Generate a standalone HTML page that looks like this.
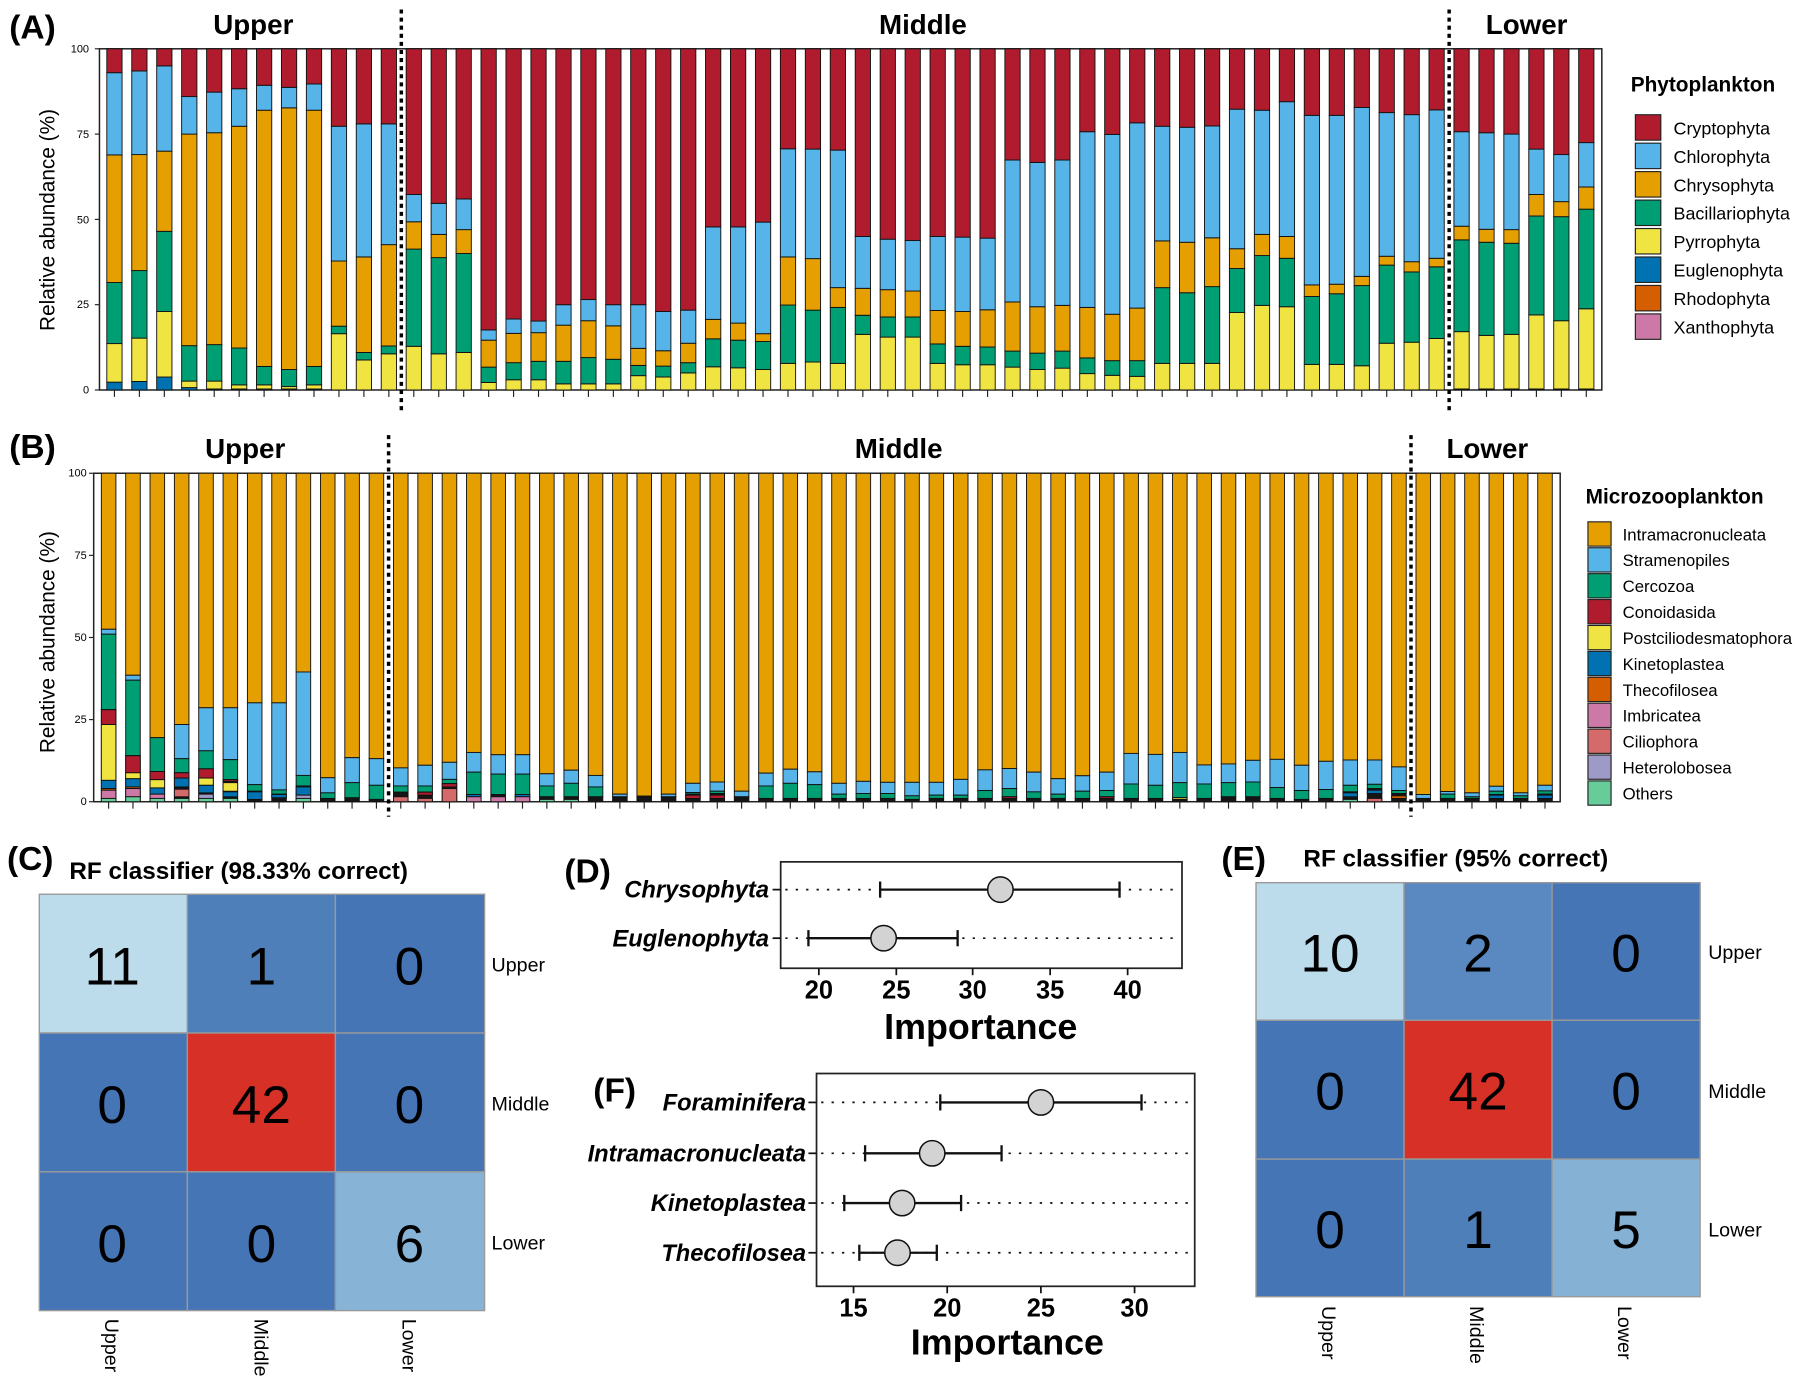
<!DOCTYPE html>
<html><head><meta charset="utf-8">
<style>
html,body{margin:0;padding:0;background:#fff;}
svg{display:block;font-family:"Liberation Sans",Arial,sans-serif;}
.b{font-weight:bold;}
</style></head>
<body>
<svg id="s" xmlns="http://www.w3.org/2000/svg" width="1810" height="1386" viewBox="0 0 1565 1198">
<rect width="1565" height="1198" fill="#fff"/>
<g id="barsA"></g>
<g id="barsB"></g>

<text x="8" y="33" class="b" font-size="29">(A)</text>
<text x="219" y="29" class="b" font-size="24" text-anchor="middle">Upper</text>
<text x="798" y="29" class="b" font-size="24" text-anchor="middle">Middle</text>
<text x="1320" y="29" class="b" font-size="24" text-anchor="middle">Lower</text>
<text transform="translate(47,190) rotate(-90)" font-size="18" text-anchor="middle">Relative abundance (%)</text>
<g font-size="9.5" text-anchor="end">
<text x="77" y="45">100</text><text x="77" y="119">75</text><text x="77" y="193">50</text><text x="77" y="266">25</text><text x="77" y="340">0</text>
</g>
<text x="8" y="396" class="b" font-size="29">(B)</text>
<text x="212" y="396" class="b" font-size="24" text-anchor="middle">Upper</text>
<text x="777" y="396" class="b" font-size="24" text-anchor="middle">Middle</text>
<text x="1286" y="396" class="b" font-size="24" text-anchor="middle">Lower</text>
<text transform="translate(47,555) rotate(-90)" font-size="18" text-anchor="middle">Relative abundance (%)</text>
<g font-size="9.5" text-anchor="end">
<text x="75" y="412">100</text><text x="75" y="483">75</text><text x="75" y="554">50</text><text x="75" y="625">25</text><text x="75" y="696">0</text>
</g>

<text x="1410" y="79" class="b" font-size="18">Phytoplankton</text>
<g id="legA" font-size="15.5"></g>
<text x="1371" y="435" class="b" font-size="18">Microzooplankton</text>
<g id="legB" font-size="14.5"></g>

<text x="6" y="752" class="b" font-size="29">(C)</text>
<text x="60" y="760" class="b" font-size="21">RF classifier (98.33% correct)</text>
<g stroke="#999" stroke-width="1.2">
<rect x="34" y="773" width="128" height="120" fill="#bcdcec"/>
<rect x="162" y="773" width="128" height="120" fill="#4f7fb8"/>
<rect x="290" y="773" width="129" height="120" fill="#4675b6"/>
<rect x="34" y="893" width="128" height="120" fill="#4675b6"/>
<rect x="162" y="893" width="128" height="120" fill="#d73027"/>
<rect x="290" y="893" width="129" height="120" fill="#4675b6"/>
<rect x="34" y="1013" width="128" height="120" fill="#4675b6"/>
<rect x="162" y="1013" width="128" height="120" fill="#4675b6"/>
<rect x="290" y="1013" width="129" height="120" fill="#86b3d6"/>
</g>
<g font-size="46" text-anchor="middle">
<text x="97" y="851">11</text><text x="226" y="851">1</text><text x="354" y="851">0</text>
<text x="97" y="971">0</text><text x="226" y="971">42</text><text x="354" y="971">0</text>
<text x="97" y="1091">0</text><text x="226" y="1091">0</text><text x="354" y="1091">6</text>
</g>
<g font-size="17">
<text x="425" y="840">Upper</text><text x="425" y="960">Middle</text><text x="425" y="1080">Lower</text>
<text transform="translate(91,1140) rotate(90)">Upper</text>
<text transform="translate(220,1140) rotate(90)">Middle</text>
<text transform="translate(348,1140) rotate(90)">Lower</text>
</g>

<text x="1056" y="752" class="b" font-size="29">(E)</text>
<text x="1127" y="749" class="b" font-size="21">RF classifier (95% correct)</text>
<g stroke="#999" stroke-width="1.2">
<rect x="1086" y="763" width="128" height="119" fill="#bcdcec"/>
<rect x="1214" y="763" width="128" height="119" fill="#5a88c0"/>
<rect x="1342" y="763" width="128" height="119" fill="#4675b6"/>
<rect x="1086" y="882" width="128" height="120" fill="#4675b6"/>
<rect x="1214" y="882" width="128" height="120" fill="#d73027"/>
<rect x="1342" y="882" width="128" height="120" fill="#4675b6"/>
<rect x="1086" y="1002" width="128" height="119" fill="#4675b6"/>
<rect x="1214" y="1002" width="128" height="119" fill="#4e7fb8"/>
<rect x="1342" y="1002" width="128" height="119" fill="#85b1d5"/>
</g>
<g font-size="46" text-anchor="middle">
<text x="1150" y="840">10</text><text x="1278" y="840">2</text><text x="1406" y="840">0</text>
<text x="1150" y="959">0</text><text x="1278" y="959">42</text><text x="1406" y="959">0</text>
<text x="1150" y="1079">0</text><text x="1278" y="1079">1</text><text x="1406" y="1079">5</text>
</g>
<g font-size="17">
<text x="1477" y="829">Upper</text><text x="1477" y="949">Middle</text><text x="1477" y="1069">Lower</text>
<text transform="translate(1143,1129) rotate(90)">Upper</text>
<text transform="translate(1271,1129) rotate(90)">Middle</text>
<text transform="translate(1399,1129) rotate(90)">Lower</text>
</g>

<text x="488" y="763" class="b" font-size="29">(D)</text>
<rect x="675" y="745" width="347" height="92" fill="none" stroke="#222" stroke-width="1.5"/>
<g stroke="#111" stroke-width="1.5" stroke-dasharray="2,7">
<line x1="679" y1="769" x2="1020" y2="769"/><line x1="679" y1="811" x2="1020" y2="811"/>
</g>
<line x1="668" y1="769" x2="675" y2="769" stroke="#111" stroke-width="1.5"/>
<line x1="668" y1="811" x2="675" y2="811" stroke="#111" stroke-width="1.5"/>
<g stroke="#111" stroke-width="2" fill="#d3d3d3">
<line x1="761" y1="769" x2="968" y2="769"/><line x1="761" y1="762" x2="761" y2="776"/><line x1="968" y1="762" x2="968" y2="776"/>
<line x1="699" y1="811" x2="828" y2="811"/><line x1="699" y1="804" x2="699" y2="818"/><line x1="828" y1="804" x2="828" y2="818"/>
<circle cx="865" cy="769" r="11" stroke-width="1.3"/><circle cx="764" cy="811" r="11" stroke-width="1.3"/>
</g>
<g stroke="#111" stroke-width="1.5">
<line x1="708" y1="837" x2="708" y2="843"/><line x1="775" y1="837" x2="775" y2="843"/><line x1="841" y1="837" x2="841" y2="843"/><line x1="908" y1="837" x2="908" y2="843"/><line x1="975" y1="837" x2="975" y2="843"/>
</g>
<g class="b" font-size="22" text-anchor="middle">
<text x="708" y="863">20</text><text x="775" y="863">25</text><text x="841" y="863">30</text><text x="908" y="863">35</text><text x="975" y="863">40</text>
</g>
<text x="848" y="898" class="b" font-size="31" text-anchor="middle">Importance</text>
<g class="b" font-style="italic" font-size="20.5" text-anchor="end">
<text x="665" y="776">Chrysophyta</text><text x="665" y="818">Euglenophyta</text>
</g>

<text x="513" y="952" class="b" font-size="29">(F)</text>
<rect x="706" y="928" width="327" height="184" fill="none" stroke="#222" stroke-width="1.5"/>
<g stroke="#111" stroke-width="1.5" stroke-dasharray="2,7">
<line x1="710" y1="953" x2="1031" y2="953"/><line x1="710" y1="997" x2="1031" y2="997"/><line x1="710" y1="1040" x2="1031" y2="1040"/><line x1="710" y1="1083" x2="1031" y2="1083"/>
</g>
<g stroke="#111" stroke-width="1.5">
<line x1="699" y1="953" x2="706" y2="953"/><line x1="699" y1="997" x2="706" y2="997"/><line x1="699" y1="1040" x2="706" y2="1040"/><line x1="699" y1="1083" x2="706" y2="1083"/>
</g>
<g stroke="#111" stroke-width="2" fill="#d3d3d3">
<line x1="813" y1="953" x2="987" y2="953"/><line x1="813" y1="946" x2="813" y2="960"/><line x1="987" y1="946" x2="987" y2="960"/>
<line x1="748" y1="997" x2="866" y2="997"/><line x1="748" y1="990" x2="748" y2="1004"/><line x1="866" y1="990" x2="866" y2="1004"/>
<line x1="730" y1="1040" x2="831" y2="1040"/><line x1="730" y1="1033" x2="730" y2="1047"/><line x1="831" y1="1033" x2="831" y2="1047"/>
<line x1="743" y1="1083" x2="810" y2="1083"/><line x1="743" y1="1076" x2="743" y2="1090"/><line x1="810" y1="1076" x2="810" y2="1090"/>
<circle cx="900" cy="953" r="11" stroke-width="1.3"/><circle cx="806" cy="997" r="11" stroke-width="1.3"/>
<circle cx="780" cy="1040" r="11" stroke-width="1.3"/><circle cx="776" cy="1083" r="11" stroke-width="1.3"/>
</g>
<g stroke="#111" stroke-width="1.5">
<line x1="738" y1="1112" x2="738" y2="1118"/><line x1="819" y1="1112" x2="819" y2="1118"/><line x1="900" y1="1112" x2="900" y2="1118"/><line x1="981" y1="1112" x2="981" y2="1118"/>
</g>
<g class="b" font-size="22" text-anchor="middle">
<text x="738" y="1138">15</text><text x="819" y="1138">20</text><text x="900" y="1138">25</text><text x="981" y="1138">30</text>
</g>
<text x="871" y="1171" class="b" font-size="31" text-anchor="middle">Importance</text>
<g class="b" font-style="italic" font-size="20.5" text-anchor="end">
<text x="697" y="960">Foraminifera</text><text x="697" y="1004">Intramacronucleata</text><text x="697" y="1047">Kinetoplastea</text><text x="697" y="1090">Thecofilosea</text>
</g>
</svg>
<script>
(function(){
var NS="http://www.w3.org/2000/svg";
function el(p,t,a){var e=document.createElementNS(NS,t);for(var k in a)e.setAttribute(k,a[k]);p.appendChild(e);return e;}
var C={cr:"#b01c2e",ch:"#56b4e9",cy:"#e69f00",ba:"#009e73",py:"#f0e442",eu:"#0072b2",rh:"#d55e00",xa:"#cc79a7",
 c:"#b01c2e",y:"#f0e442",k:"#0072b2",t:"#d55e00",i:"#cc79a7",l:"#d46a6a",h:"#9e9ac8",o:"#66cc99"};
var A=[[2.3,13.6,31.5,68.9,93],[2.5,15.2,35,69,93.5],[3.8,23,46.5,70,95],[0.7,2.6,13,75,86],[0.3,2.6,13.3,75.4,87.3],[0.3,1.5,12.3,77.3,88.3],[0.3,1.5,6.9,82,89.3],[0.3,1,6,82.7,88.7],[0.3,1.5,6.9,82,89.7],[0,16.5,18.7,37.8,77.3],[0,8.8,11,39,78],[0,10.6,12.9,42.6,78],
[0,12.8,41.3,49.3,57.3],[0,10.6,38.8,45.6,54.7],[0,11,40,47,56],[0,2.2,6.7,14.6,17.6],[0,3,8,16.6,20.8],[0,3,8.4,16.8,20.2],[0,1.8,8.4,19,25],[0,1.8,9.5,20.3,26.5],[0,1.8,9,18.8,25],[0,4.2,7.2,12.2,25],[0,3.8,7,11.5,23],[0,5,8,13.7,23.4],[0,6.8,15,20.7,47.8],[0,6.5,14.6,19.6,47.8],[0,6,14.2,16.5,49.2],[0,7.8,24.9,39,70.7],[0,8.2,23.4,38.5,70.6],[0,7.8,24.2,30,70.3],
[0,16.3,21.9,29.8,45],[0,15.5,21.4,29.4,44.2],[0,15.5,21.4,29,43.8],[0,7.8,13.5,23.3,45],[0,7.4,12.8,23,44.8],[0,7.4,12.6,23.5,44.5],[0,6.7,11.4,25.8,67.4],[0,6,10.8,24.4,66.7],[0,6.4,11.4,24.8,67.4],[0,4.8,9.4,24.2,75.7],[0,4.3,8.6,22.2,74.9],[0,4,8.6,24,78.3],[0,7.8,30,43.7,77.3],[0,7.8,28.5,43.3,77],[0,7.8,30.3,44.6,77.4],[0,22.7,35.6,41.4,82.3],[0,24.8,39.4,45.6,82],[0,24.4,38.6,45,84.5],[0,7.5,27.4,30.8,80.5],[0,7.5,28.2,31,80.5],[0,7.1,30.6,33.3,82.8],[0,13.7,36.6,39.2,81.3],[0,14,34.6,37.6,80.7],[0,15.1,36.1,38.6,82.1],
[0.3,17.1,44,48,75.7],[0.3,16,43.3,47.1,75.4],[0.3,16.3,43,47,75],[0.3,22,51,57.3,70.6],[0.3,20.3,50.8,55.2,69],[0.3,23.8,53,59.5,72.5]];
var gA=document.getElementById("barsA");
var aT=42,aB=337,aL=86,aR=1385,sA=21.57;
function yA(v){return aB-(aB-aT)*v/100;}
el(gA,"rect",{x:aL,y:aT,width:aR-aL,height:aB-aT,fill:"none",stroke:"#222","stroke-width":1.3});
[100,75,50,25,0].forEach(function(v){el(gA,"line",{x1:aL-4,x2:aL,y1:yA(v),y2:yA(v),stroke:"#222","stroke-width":1});});
var keysA=["eu","py","ba","cy","ch","cr"];
A.forEach(function(d,i){
 var cx=347+(i+1-12.5)*sA,w=13.2,x=cx-w/2,b=[0].concat(d).concat([100]);
 for(var j=0;j<6;j++){var lo=b[j],hi=b[j+1];if(hi-lo<=0.05)continue;
  el(gA,"rect",{x:x,y:yA(hi),width:w,height:yA(lo)-yA(hi),fill:C[keysA[j]],stroke:"#111","stroke-width":0.8});}
 el(gA,"line",{x1:cx,x2:cx,y1:aB,y2:aB+6,stroke:"#222","stroke-width":1});
});
[347,1253].forEach(function(x){el(gA,"line",{x1:x,x2:x,y1:8,y2:356,stroke:"#000","stroke-width":3,"stroke-dasharray":"3.5,3.5"});});
var B=[[52.5,51,28,[["c",23.5,28],["y",6.5,23.5],["k",4,6.5],["t",3.5,4],["i",1,3.5],["o",0,1]]],
[38.5,37,14,[["c",8.8,14],["y",7,8.8],["k",4.5,7],["t",4,4.5],["i",1.5,4],["o",0,1.5]]],
[19.5,19.5,9.2,[["c",6.7,9.2],["y",4.2,6.7],["k",2.3,4.2],["i",1,2.3],["o",0,1]]],
[23.5,13.1,8.8,[["c",7.2,8.8],["k",4.5,7.2],["l",1.5,3.8],["o",0,1]]],
[28.6,15.5,10,[["c",7.2,10],["y",5,7.2],["k",2.7,5],["h",1,2.3],["o",0,1]]],
[28.6,12.8,6.7,[["c",6.2,6.7],["y",3.2,5.8],["k",1.5,3],["o",0,1]]],
[30.1,5.2,3.2,[["k",0.7,3]]],[30.1,3.6,2.3,[["k",1.2,2.2]]],
[39.5,8,4.8,[["k",2,4.5],["h",1,2],["o",0,1]]],
[7.3,2.7,1],[13.4,5.8,1.2],[13.1,5,0.7],
[10.3,4.8,2.9,[["l",0,1.5]]],[11.1,4.8,2.9,[["c",2,2.9],["l",0,1]]],[12,6.8,5.5,[["c",4.5,5.5],["l",0,4]]],
[15,9,2.2,[["k",1.5,2.2],["i",0,1.5]]],[14.3,8.4,2.2,[["i",0,1.5]]],[14.3,8.4,2.2,[["k",1.5,2.2],["i",0,1.5]]],
[8.5,4.8,1.5,[["o",0,0.7]]],[9.6,5.6,1.5,[["o",0,0.7]]],[8,4.5,1.5],[2.3,1.5,1.5],[1.7,1.5,1.5],[2.3,1.5,1.5],
[5.6,2.8,2.3,[["c",1,2]]],[6,3.2,2.5,[["c",1,2]]],[3.2,1.5,1.5],[8.7,4.8,1],[9.9,5.6,1],[9.1,5.2,1],[5.6,2.3,1],
[6.2,2.5,1],[5.9,2.5,1],[5.9,1.8,0.7],[5.9,2,1],[6.8,2,1],[9.7,3.4,1],[10.1,4,1.5,[["c",1,1.5]]],[9,3,1],[7,2.3,1],[7.9,3.2,1],[9,3.4,1.5,[["c",1,1.5]]],
[14.7,5.4,1],[14.4,5,1],[15,5.8,1.2,[["y",0.7,1.2]]],[11.2,5.4,1],[11.5,5.8,1.5],[12.6,6,1.5],[12.9,4.3,1],[11.1,3.4,0.7],[12.3,3.7,1],
[12.7,5,3,[["k",1.5,2.7],["o",0,0.7]]],[12.7,5.3,4,[["k",2.5,3.5],["l",0,1]]],[10.6,3.4,2.5,[["t",1,1.8]]],
[2.2,1,1],[3.1,2.3,1],[2.7,1.5,1],[4.7,3.2,2.2,[["k",1,2]]],[2.7,1.8,1],[5,3.3,2.3,[["k",1,2]]]];
var gB=document.getElementById("barsB");
var bT=409,bB=693,bL=81,bR=1349,sB=21.05;
function yB(v){return bB-(bB-bT)*v/100;}
el(gB,"rect",{x:bL,y:bT,width:bR-bL,height:bB-bT,fill:"none",stroke:"#222","stroke-width":1.3});
[100,75,50,25,0].forEach(function(v){el(gB,"line",{x1:bL-4,x2:bL,y1:yB(v),y2:yB(v),stroke:"#222","stroke-width":1});});
function seg(x,w,lo,hi,f){if(hi-lo<=0.05)return;el(gB,"rect",{x:x,y:yB(hi),width:w,height:yB(lo)-yB(hi),fill:f,stroke:"#111","stroke-width":0.8});}
B.forEach(function(d,i){
 var cx=336+(i+1-12.5)*sB,w=12.6,x=cx-w/2;
 seg(x,w,d[0],100,"#e69f00");seg(x,w,d[1],d[0],"#56b4e9");seg(x,w,d[2],d[1],"#009e73");
 seg(x,w,0,d[2],"#151515");
 (d[3]||[]).forEach(function(e){seg(x,w,e[1],e[2],C[e[0]]);});
 el(gB,"line",{x1:cx,x2:cx,y1:bB,y2:bB+6,stroke:"#222","stroke-width":1});
});
[336,1220].forEach(function(x){el(gB,"line",{x1:x,x2:x,y1:376,y2:706,stroke:"#000","stroke-width":3,"stroke-dasharray":"3.5,3.5"});});
var LA=[["Cryptophyta","cr"],["Chlorophyta","ch"],["Chrysophyta","cy"],["Bacillariophyta","ba"],["Pyrrophyta","py"],["Euglenophyta","eu"],["Rhodophyta","rh"],["Xanthophyta","xa"]];
var g=document.getElementById("legA");
LA.forEach(function(e,i){var y=99+i*24.6;el(g,"rect",{x:1414,y:y,width:22,height:22,fill:C[e[1]],stroke:"#222","stroke-width":1});
 var t=el(g,"text",{x:1447,y:y+17});t.textContent=e[0];});
var LB=[["Intramacronucleata","cy"],["Stramenopiles","ch"],["Cercozoa","ba"],["Conoidasida","c"],["Postciliodesmatophora","y"],["Kinetoplastea","k"],["Thecofilosea","t"],["Imbricatea","i"],["Ciliophora","l"],["Heterolobosea","h"],["Others","o"]];
g=document.getElementById("legB");
LB.forEach(function(e,i){var y=451+i*22.4;el(g,"rect",{x:1373,y:y,width:20,height:21,fill:C[e[1]],stroke:"#222","stroke-width":1});
 var t=el(g,"text",{x:1403,y:y+16});t.textContent=e[0];});
})();
</script>
</body></html>
